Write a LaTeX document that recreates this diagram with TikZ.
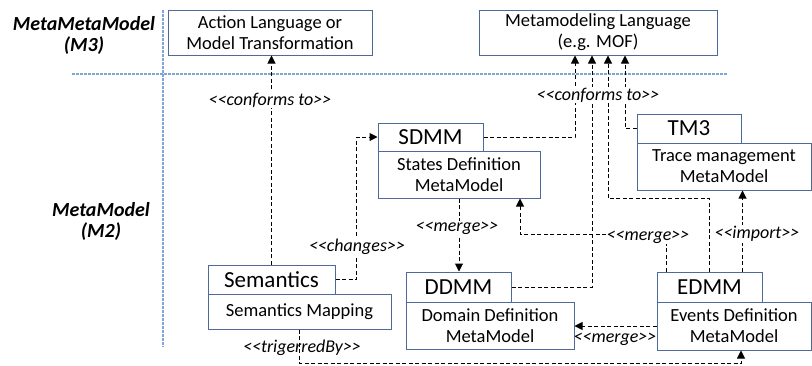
\documentclass[tikz,border=0pt]{standalone}
\usepackage{fontspec}
\setmainfont{Carlito}
\usetikzlibrary{arrows.meta,calc}
\definecolor{boxline}{HTML}{4F6A99}
\definecolor{sepline}{HTML}{7FA4D6}
\newcommand{\stereo}[1]{<{}<#1>{}>}
\tikzset{
  box/.style={draw=boxline, line width=1pt, fill=white, inner sep=0pt, align=center,
    font=\fontsize{18.5}{21}\selectfont},
  titlebox/.style={box, font=\fontsize{23}{25}\selectfont},
  conn/.style={draw=black, line width=1pt, dash pattern=on 4pt off 2.5pt},
  arr/.style={conn, -{Triangle[width=8pt,length=8pt]}},
  lbl/.style={font=\fontsize{18}{20}\selectfont\itshape, inner sep=1pt},
  lblw/.style={lbl, fill=white},
  layer/.style={font=\fontsize{20}{21}\selectfont\bfseries\itshape, align=center},
  sep/.style={draw=sepline, line width=1.5pt, dash pattern=on 3pt off 1pt}
}
\begin{document}
\begin{tikzpicture}[x=1pt,y=-1pt]
\useasboundingbox (0,0) rectangle (812,365);
% separators
\draw[sep] (72,74) -- (727,74);
\draw[sep] (163,10) -- (163,347);
% layer labels
\node[layer] (m3) at (84,35) {MetaMetaModel\\(M3)};
\node[layer] (m2) at (101,221) {MetaModel\\(M2)};
% M3 boxes
\node[box, minimum width=204pt, minimum height=45pt] (act) at (270,32.5) {Action Language or\\Model Transformation};
\node[box, minimum width=238pt, minimum height=45pt] (meta) at (598,32.5) {Metamodeling Language\\(e.g. MOF)};
% SDMM
\node[titlebox, minimum width=105pt, minimum height=28pt] (sdmmT) at (430.5,137) {SDMM};
\node[box, minimum width=162pt, minimum height=47pt] (sdmmB) at (459,174.5) {States Definition\\MetaModel};
% TM3
\node[titlebox, minimum width=104pt, minimum height=29pt] (tm3T) at (689,128.5) {TM3};
\node[box, minimum width=174pt, minimum height=47pt] (tm3B) at (724,166.5) {Trace management\\MetaModel};
% EDMM
\node[titlebox, minimum width=105pt, minimum height=30pt] (edmmT) at (709.5,287) {EDMM};
\node[box, minimum width=154pt, minimum height=48pt] (edmmB) at (734,326) {Events Definition\\MetaModel};
% DDMM
\node[titlebox, minimum width=105pt, minimum height=30pt] (ddmmT) at (458.5,287) {DDMM};
\node[box, minimum width=168pt, minimum height=47pt] (ddmmB) at (490,325.5) {Domain Definition\\MetaModel};
% Semantics
\node[titlebox, minimum width=127pt, minimum height=29pt] (semT) at (271.5,279.5) {Semantics};
\node[box, minimum width=183pt, minimum height=35pt] (semB) at (299.5,311.5) {Semantics Mapping};
% conforms to (Semantics -> Action)
\draw[arr] (semT.north) -- (semT.north |- act.south);
\node[lblw] (lc1) at (270,100) {\stereo{conforms to}};
% conforms to (-> MOF)
\draw[arr] (sdmmT.east) -| ([xshift=-23pt]meta.south);
\draw[arr] (ddmmT.east) -| ([xshift=-6pt]meta.south);
\draw[arr] (edmmT.north) -- ++(0,-73) -| ([xshift=10pt]meta.south);
\draw[arr] (tm3T.west) -| ([xshift=27pt]meta.south);
\node[lblw] (lc2) at (598,95) {\stereo{conforms to}};
% changes
\draw[arr] (semT.east) -- ++(21,0) |- (sdmmT.west);
\node[lblw] (lch) at (357,247) {\stereo{changes}};
% merge SDMM -> DDMM
\draw[arr] (sdmmB.south) -- (sdmmB.south |- ddmmT.north);
\node[lblw] (lm1) at (457,228) {\stereo{merge}};
% merge EDMM -> SDMM
\draw[arr] ([xshift=10pt]edmmT.north west) -- ++(0,-37) -| ([xshift=61pt]sdmmB.south);
\node[lblw] (lm2) at (648,237) {\stereo{merge}};
% import
\draw[arr] ([xshift=-20pt]edmmT.north east) -- ([xshift=-20pt]edmmT.north east |- tm3B.south);
\node[lblw] (lim) at (757,234) {\stereo{import}};
% merge EDMM -> DDMM
\draw[arr] (edmmB.west) -- (edmmB.west -| ddmmB.east);
\node[lbl] (lm3) at (615,339) {\stereo{merge}};
% trigerredBy
\draw[arr] (semB.south) -- ++(0,34) -| ([xshift=7pt]edmmB.south);
\node[lbl] (ltr) at (302,348) {\stereo{trigerredBy}};
\end{tikzpicture}
\end{document}
